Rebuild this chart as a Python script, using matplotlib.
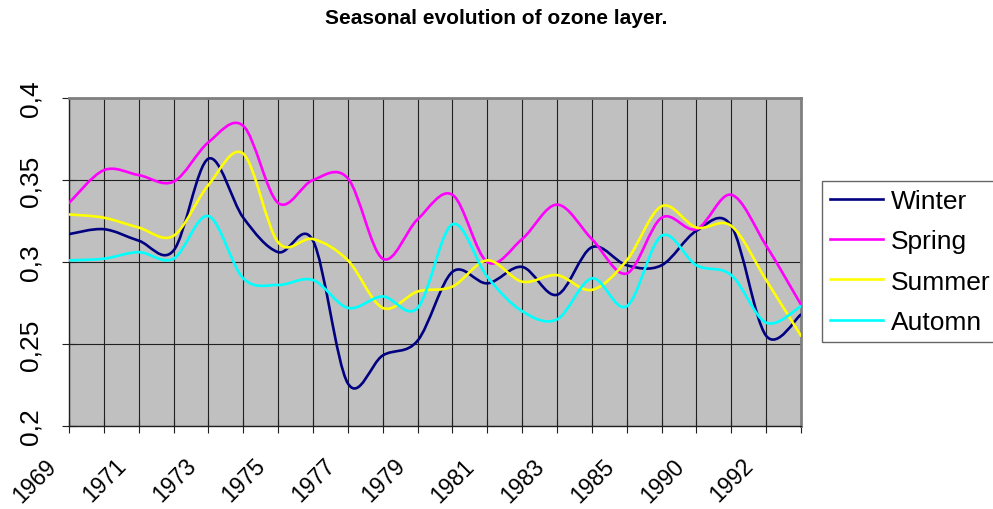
import matplotlib
matplotlib.use("Agg")
import matplotlib.pyplot as plt
import matplotlib.transforms as mtransforms
from matplotlib.path import Path
from matplotlib.patches import PathPatch
from matplotlib.lines import Line2D
from matplotlib.ticker import FuncFormatter

# data
years = [1969, 1970, 1971, 1972, 1973, 1974, 1975, 1976, 1977, 1978, 1979,
         1980, 1981, 1982, 1983, 1984, 1985, 1989, 1990, 1991, 1992, 1993]

winter = [0.317, 0.320, 0.313, 0.307, 0.363, 0.327, 0.306, 0.313, 0.226, 0.243, 0.252,
          0.294, 0.287, 0.297, 0.280, 0.309, 0.298, 0.298, 0.319, 0.322, 0.255, 0.268]
spring = [0.336, 0.356, 0.353, 0.349, 0.373, 0.383, 0.336, 0.350, 0.351, 0.302, 0.326,
          0.341, 0.300, 0.314, 0.335, 0.314, 0.293, 0.327, 0.320, 0.341, 0.310, 0.274]
summer = [0.329, 0.327, 0.321, 0.316, 0.347, 0.366, 0.312, 0.314, 0.301, 0.272, 0.282,
          0.285, 0.301, 0.288, 0.292, 0.283, 0.301, 0.334, 0.321, 0.322, 0.289, 0.255]
autumn = [0.301, 0.302, 0.306, 0.302, 0.328, 0.290, 0.286, 0.289, 0.272, 0.279, 0.272,
          0.323, 0.291, 0.270, 0.265, 0.290, 0.273, 0.316, 0.298, 0.292, 0.263, 0.273]

series = [("Winter", winter, "#000080"),
          ("Spring", spring, "#FF00FF"),
          ("Summer", summer, "#FFFF00"),
          ("Automn", autumn, "#00FFFF")]

FONT = "Liberation Sans"


def smooth_path(xs, ys):
    """Bezier path through the points, like a spreadsheet 'smoothed line'."""
    pts = list(zip(xs, ys))
    n = len(pts)
    verts = [pts[0]]
    codes = [Path.MOVETO]
    for i in range(n - 1):
        p_prev = pts[max(i - 1, 0)]
        p0 = pts[i]
        p1 = pts[i + 1]
        p_next = pts[min(i + 2, n - 1)]
        c1 = (p0[0] + (p1[0] - p_prev[0]) / 6, p0[1] + (p1[1] - p_prev[1]) / 6)
        c2 = (p1[0] - (p_next[0] - p0[0]) / 6, p1[1] - (p_next[1] - p0[1]) / 6)
        verts += [c1, c2, p1]
        codes += [Path.CURVE4] * 3
    return Path(verts, codes)


fig = plt.figure(figsize=(9.93, 5.10), dpi=100)
ax = fig.add_axes([69 / 993, 1 - 427 / 510, 732 / 993, 328 / 510])
ax.set_facecolor("#C0C0C0")

xs = list(range(len(years)))
handles = []
for name, vals, col in series:
    patch = PathPatch(smooth_path(xs, vals), facecolor="none", edgecolor=col,
                      lw=1.9, zorder=3, capstyle="round", joinstyle="round")
    ax.add_patch(patch)
    handles.append(Line2D([], [], color=col, lw=1.9, label=name))

ax.set_xlim(0, len(years) - 1)
ax.set_ylim(0.2, 0.4)
ax.set_xticks(xs)
ax.set_xticklabels([str(y) if i % 2 == 0 else "" for i, y in enumerate(years)])
ax.set_yticks([0.2, 0.25, 0.3, 0.35, 0.4])
ax.yaxis.set_major_formatter(FuncFormatter(lambda v, p: f"{v:g}".replace(".", ",")))

ax.grid(True, color="#202020", lw=0.8)
ax.set_axisbelow(True)

ax.tick_params(axis="both", direction="inout", length=10, width=0.8, color="#202020")
ax.tick_params(axis="y", pad=14, labelsize=19)
ax.tick_params(axis="x", pad=15, labelsize=16.5)
for lab in ax.get_yticklabels():
    lab.set_rotation(90)
    lab.set_va("center")
    lab.set_family(FONT)
shift = mtransforms.ScaledTranslation(-8 / 100, 0, fig.dpi_scale_trans)
for lab in ax.get_xticklabels():
    lab.set_rotation(45)
    lab.set_ha("right")
    lab.set_va("top")
    lab.set_family(FONT)
    lab.set_transform(lab.get_transform() + shift)

for side in ["top", "right"]:
    ax.spines[side].set_color("#808080")
    ax.spines[side].set_linewidth(2)
for side in ["left", "bottom"]:
    ax.spines[side].set_color("#202020")
    ax.spines[side].set_linewidth(1)

fig.text(0.5, 1 - 19 / 510, "Seasonal evolution of ozone layer.", ha="center",
         va="center", fontsize=15, fontweight="bold", family=FONT)

leg = fig.legend(handles=handles, loc="upper left",
                 bbox_to_anchor=(822 / 993, 1 - 182 / 510), borderaxespad=0,
                 prop={"family": FONT, "size": 19}, frameon=True, fancybox=False,
                 handlelength=2.0, handletextpad=0.3, labelspacing=0.62,
                 borderpad=0.3)
leg.get_frame().set_edgecolor("#404040")
leg.get_frame().set_linewidth(1)

fig.savefig("out.png", dpi=100)
